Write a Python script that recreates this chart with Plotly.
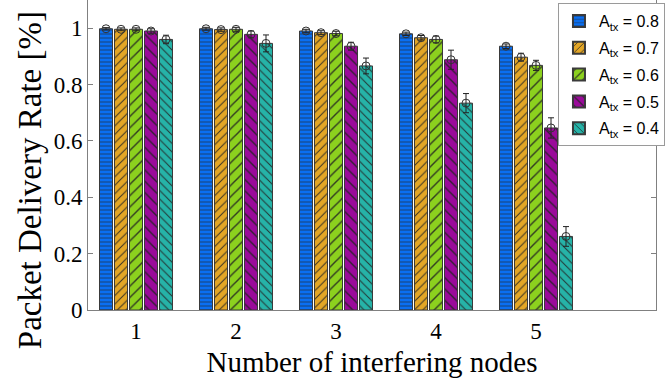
import plotly.graph_objects as go

groups = [1, 2, 3, 4, 5]
series_names = ["A<sub>tx</sub> = 0.8", "A<sub>tx</sub> = 0.7", "A<sub>tx</sub> = 0.6",
                "A<sub>tx</sub> = 0.5", "A<sub>tx</sub> = 0.4"]
pdr_08 = [0.998, 0.998, 0.990, 0.980, 0.936]
pdr_07 = [0.996, 0.995, 0.984, 0.966, 0.897]
pdr_06 = [0.996, 0.996, 0.981, 0.960, 0.868]
pdr_05 = [0.990, 0.978, 0.936, 0.888, 0.646]
pdr_04 = [0.960, 0.946, 0.866, 0.734, 0.261]
err_08 = [0.004, 0.005, 0.006, 0.006, 0.008]
err_07 = [0.005, 0.006, 0.007, 0.008, 0.014]
err_06 = [0.005, 0.007, 0.008, 0.012, 0.018]
err_05 = [0.008, 0.012, 0.014, 0.034, 0.036]
err_04 = [0.015, 0.030, 0.028, 0.034, 0.035]

values = [pdr_08, pdr_07, pdr_06, pdr_05, pdr_04]
errors = [err_08, err_07, err_06, err_05, err_04]
colors = ["#0a6ff2", "#e3a626", "#8cd11e", "#9a0a9a", "#26b3a8"]
shapes = ["-", "/", "/", "\\", "\\"]
psizes = [4, 6, 8, 8, 6]

pitch = 0.15
bar_w = 0.13

fig = go.Figure()
for i in range(5):
    xs = [g + (i - 2) * pitch for g in groups]
    fig.add_trace(go.Bar(
        x=xs, y=values[i], width=bar_w, name=series_names[i], legendgroup=f"g{i}",
        marker=dict(color=colors[i], line=dict(color="#3a3a3a", width=1),
                    pattern=dict(shape=shapes[i], fgcolor="#222222", fgopacity=0.85,
                                 size=psizes[i], solidity=0.18)),
    ))
for i in range(5):
    xs = [g + (i - 2) * pitch for g in groups]
    fig.add_trace(go.Scatter(
        x=xs, y=values[i], mode="markers", showlegend=False, legendgroup=f"g{i}",
        marker=dict(symbol="circle-open", size=8, color="#333333", line=dict(width=1)),
        error_y=dict(type="data", array=errors[i], color="#222222", thickness=1, width=3),
    ))

fig.add_annotation(
    text="Packet Delivery Rate [%]", textangle=-90, showarrow=False,
    xref="paper", yref="paper", x=-0.102, y=0.419, xanchor="center", yanchor="middle",
    font=dict(family="Liberation Serif", size=33, color="black"),
)

fig.update_layout(
    width=666, height=382,
    margin=dict(l=88, r=10, t=0, b=72),
    plot_bgcolor="white", paper_bgcolor="white",
    barmode="overlay",
    font=dict(family="Liberation Serif", color="black"),
    legend=dict(x=1.0158, y=0.99, xanchor="right", yanchor="top",
                bordercolor="#9a9a9a", borderwidth=1, bgcolor="white",
                font=dict(family="Liberation Sans", size=16),
                tracegroupgap=3, itemsizing="constant"),
    xaxis=dict(range=[0.52, 6.2], tickvals=groups, ticktext=[str(g) for g in groups],
               showline=True, linecolor="#808080", linewidth=1, mirror=False,
               ticks="", showgrid=False, zeroline=False,
               tickfont=dict(size=23, family="Liberation Serif"),
               title=dict(text="Number of interfering nodes", font=dict(size=29), standoff=9)),
    yaxis=dict(range=[0, 1.1], tickvals=[0, 0.2, 0.4, 0.6, 0.8, 1],
               ticktext=["0", "0.2", "0.4", "0.6", "0.8", "1"],
               showline=True, linecolor="#808080", linewidth=1, mirror="ticks",
               ticks="inside", ticklen=5, tickcolor="#808080",
               showgrid=False, zeroline=False,
               tickfont=dict(size=23, family="Liberation Serif")),
)

fig.write_html("out.html")
